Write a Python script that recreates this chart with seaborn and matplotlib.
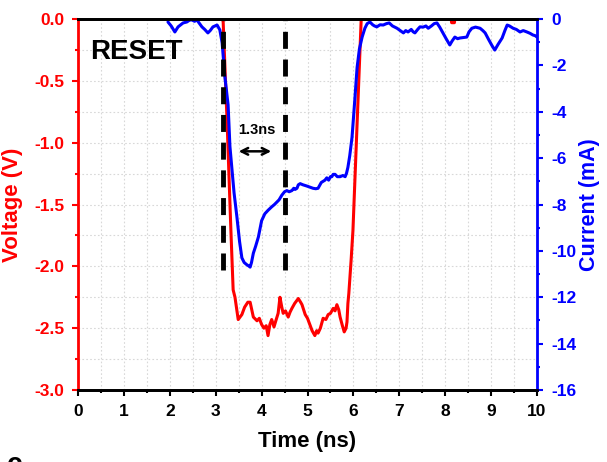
import numpy as np
import pandas as pd
import seaborn as sns
import matplotlib.pyplot as plt
from matplotlib.ticker import MultipleLocator

# Voltage trace (V) vs time (ns); baseline sits just above the 0 V limit
time_v = [0.0, 3.12, 3.16, 3.25, 3.33, 3.38, 3.42, 3.49, 3.57, 3.63, 3.70, 3.75, 3.82, 3.90,
          3.95, 4.00, 4.05, 4.10, 4.14, 4.18, 4.22, 4.27, 4.31, 4.36, 4.40, 4.44, 4.47, 4.52,
          4.58, 4.62, 4.66, 4.72, 4.80, 4.85, 4.88, 4.95, 5.00, 5.05, 5.10, 5.16, 5.20, 5.23,
          5.28, 5.34, 5.40, 5.45, 5.50, 5.56, 5.60, 5.64, 5.68, 5.71, 5.76, 5.80, 5.84, 5.86,
          5.88, 5.90, 5.95, 5.99, 6.08, 6.17, 6.20, 8.12, 8.14, 8.20, 8.22, 10.0]
voltage = [0.03, 0.03, 0.0, -0.85, -1.70, -2.19, -2.25, -2.43, -2.39, -2.33, -2.29, -2.29, -2.41, -2.44,
           -2.42, -2.47, -2.50, -2.48, -2.56, -2.47, -2.43, -2.49, -2.44, -2.38, -2.25, -2.33, -2.38, -2.36,
           -2.41, -2.37, -2.34, -2.30, -2.26, -2.29, -2.31, -2.39, -2.42, -2.47, -2.52, -2.56, -2.52, -2.54,
           -2.50, -2.42, -2.43, -2.39, -2.38, -2.34, -2.36, -2.31, -2.35, -2.41, -2.48, -2.53, -2.50, -2.45,
           -2.30, -2.22, -1.95, -1.71, -0.85, 0.0, 0.03, 0.03, -0.03, -0.03, 0.03, 0.03]

# Current trace (mA) vs time (ns)
time_i = [1.96, 2.03, 2.11, 2.18, 2.24, 2.29, 2.37, 2.43, 2.48, 2.54, 2.59, 2.65, 2.70, 2.76, 2.83,
          2.88, 2.94, 3.03, 3.09, 3.14, 3.20, 3.27, 3.31, 3.35, 3.40, 3.46, 3.52, 3.57, 3.62, 3.68,
          3.72, 3.75, 3.78, 3.82, 3.87, 3.93, 3.97, 4.00, 4.07, 4.14, 4.22, 4.28, 4.33, 4.38, 4.44,
          4.50, 4.55, 4.60, 4.66, 4.70, 4.73, 4.77, 4.80, 4.84, 4.90, 4.98, 5.05, 5.12, 5.18, 5.23,
          5.30, 5.34, 5.38, 5.42, 5.46, 5.50, 5.53, 5.56, 5.60, 5.65, 5.71, 5.77, 5.82, 5.85, 5.88,
          5.92, 5.97, 6.03, 6.08, 6.13, 6.19, 6.25, 6.30, 6.36, 6.42, 6.46, 6.51, 6.58, 6.65, 6.72,
          6.78, 6.85, 6.90, 6.95, 7.02, 7.09, 7.14, 7.19, 7.26, 7.30, 7.34, 7.40, 7.45, 7.52, 7.58,
          7.63, 7.70, 7.76, 7.82, 7.88, 7.95, 8.02, 8.10, 8.15, 8.21, 8.27, 8.32, 8.40, 8.47, 8.52,
          8.58, 8.66, 8.76, 8.82, 8.87, 8.95, 9.02, 9.08, 9.15, 9.24, 9.30, 9.35, 9.40, 9.48, 9.55,
          9.63, 9.70, 9.78, 9.85, 9.91, 9.96, 10.0]
current = [-0.13, -0.30, -0.56, -0.34, -0.25, -0.17, -0.13, -0.05, -0.04, -0.10, -0.04, -0.20, -0.34, -0.45, -0.60,
           -0.50, -0.34, -0.26, -0.47, -1.03, -2.50, -3.70, -5.50, -6.40, -7.50, -8.50, -9.60, -10.30, -10.50, -10.60,
           -10.65, -10.70, -10.50, -10.10, -9.80, -9.40, -9.00, -8.70, -8.40, -8.25, -8.10, -8.00, -7.90, -7.80, -7.60,
           -7.45, -7.40, -7.45, -7.40, -7.30, -7.35, -7.30, -7.15, -7.10, -7.15, -7.20, -7.25, -7.30, -7.32, -7.30,
           -7.05, -7.00, -6.95, -6.85, -6.95, -6.80, -6.80, -6.70, -6.70, -6.80, -6.80, -6.75, -6.80, -6.65, -6.40,
           -5.90, -5.10, -3.50, -2.10, -1.30, -0.78, -0.40, -0.20, -0.13, -0.25, -0.30, -0.34, -0.25, -0.26, -0.20,
           -0.17, -0.30, -0.35, -0.40, -0.50, -0.60, -0.50, -0.56, -0.45, -0.55, -0.60, -0.45, -0.34, -0.35, -0.30,
           -0.40, -0.30, -0.20, -0.17, -0.35, -0.60, -0.85, -1.12, -0.95, -0.78, -0.85, -0.82, -0.80, -0.78, -0.55,
           -0.40, -0.35, -0.40, -0.50, -0.60, -0.90, -1.15, -1.34, -1.10, -0.82, -0.50, -0.26, -0.30, -0.40, -0.45,
           -0.56, -0.50, -0.56, -0.62, -0.69, -0.72, -0.78]

# markers of the 1.3 ns window
window = [3.15, 4.5]

sns.set_style("white")
plt.rcParams['font.family'] = ['Liberation Sans', 'DejaVu Sans']
plt.rcParams['font.weight'] = 'bold'
plt.rcParams['axes.labelweight'] = 'bold'
plt.rcParams['text.color'] = 'black'
plt.rcParams['axes.labelcolor'] = 'black'
plt.rcParams['xtick.color'] = 'black'
plt.rcParams['ytick.color'] = 'black'

red, blue = '#ff0000', '#0000ff'

fig = plt.figure(figsize=(6.07, 4.62), dpi=100)
ax1 = fig.add_axes([0.1285, 0.1558, 0.7562, 0.8031])
ax2 = ax1.twinx()

dv = pd.DataFrame({"t": time_v, "v": voltage})
di = pd.DataFrame({"t": time_i, "i": current})

sns.lineplot(data=dv, x="t", y="v", ax=ax1, color=red, lw=2.2, estimator=None, sort=False)
sns.lineplot(data=di, x="t", y="i", ax=ax2, color=blue, lw=2.2, estimator=None, sort=False)

ax1.set_xlim(0, 10)
ax1.set_ylim(-3, 0)
ax2.set_ylim(-16, 0)

ax1.xaxis.set_major_locator(MultipleLocator(1))
ax1.xaxis.set_minor_locator(MultipleLocator(0.5))
ax1.yaxis.set_major_locator(MultipleLocator(0.5))
ax1.yaxis.set_minor_locator(MultipleLocator(0.25))
ax2.yaxis.set_major_locator(MultipleLocator(2))
ax2.yaxis.set_minor_locator(MultipleLocator(1))
ax1.yaxis.set_major_formatter(lambda v, p: f"{v:.1f}")
ax2.yaxis.set_major_formatter(lambda v, p: f"{v:.0f}".replace("\u2212", "-"))

ax1.grid(which='both', color='#d8d8d8', linestyle=(0, (1.5, 2)), lw=0.8)
ax1.set_axisbelow(True)

ax1.tick_params(axis='x', which='major', direction='out', length=4, width=1.5, pad=6,
                labelsize=12.5, colors='black', bottom=True)
ax1.tick_params(axis='x', which='minor', direction='out', length=2.5, width=1.5, bottom=True)
ax1.tick_params(axis='y', which='major', direction='out', length=4, width=1.5, pad=6,
                labelsize=12.5, colors=red, left=True)
ax1.tick_params(axis='y', which='minor', direction='out', length=2.5, width=1.5, colors=red, left=True)
ax2.tick_params(axis='y', which='major', direction='out', length=4, width=1.5, pad=6,
                labelsize=12.5, colors=blue, right=True)
ax2.tick_params(axis='y', which='minor', direction='out', length=2.5, width=1.5, colors=blue, right=True)

for ax in (ax1, ax2):
    for s in ax.spines.values():
        s.set_linewidth(2)
    ax.spines['top'].set_color('black')
    ax.spines['bottom'].set_color('black')
ax1.spines['left'].set_color(red)
ax1.spines['right'].set_visible(False)
ax2.spines['left'].set_visible(False)
ax2.spines['right'].set_color(blue)

ax1.set_xlabel("Time (ns)", fontsize=16, labelpad=9)
ax1.set_ylabel("Voltage (V)", fontsize=16, color=red, labelpad=8)
ax2.set_ylabel("Current (mA)", fontsize=15.5, color=blue, labelpad=2)

for lab in ax1.get_xticklabels() + ax1.get_yticklabels() + ax2.get_yticklabels():
    lab.set_fontweight('bold')

# dashed window markers
for x in window:
    ax2.axvline(x, ymin=1 - 2.03 / 3, ymax=1, color='black', lw=3.5,
                linestyle=(0, (3.5, 2.2)), zorder=5)

ax1.annotate('', xy=(3.44, -1.07), xytext=(4.27, -1.07),
             arrowprops=dict(arrowstyle='<->', lw=1.8, color='black', mutation_scale=12))
ax1.text(3.9, -0.9, "1.3ns", fontsize=10.5, ha='center', va='center', color='black')
ax1.text(0.26, -0.27, "RESET", fontsize=20, ha='left', va='center', color='black')

fig.text(0.012, 0.022, "c", fontsize=20, va='top', ha='left', color='black')

fig.savefig("out.png", dpi=100)
